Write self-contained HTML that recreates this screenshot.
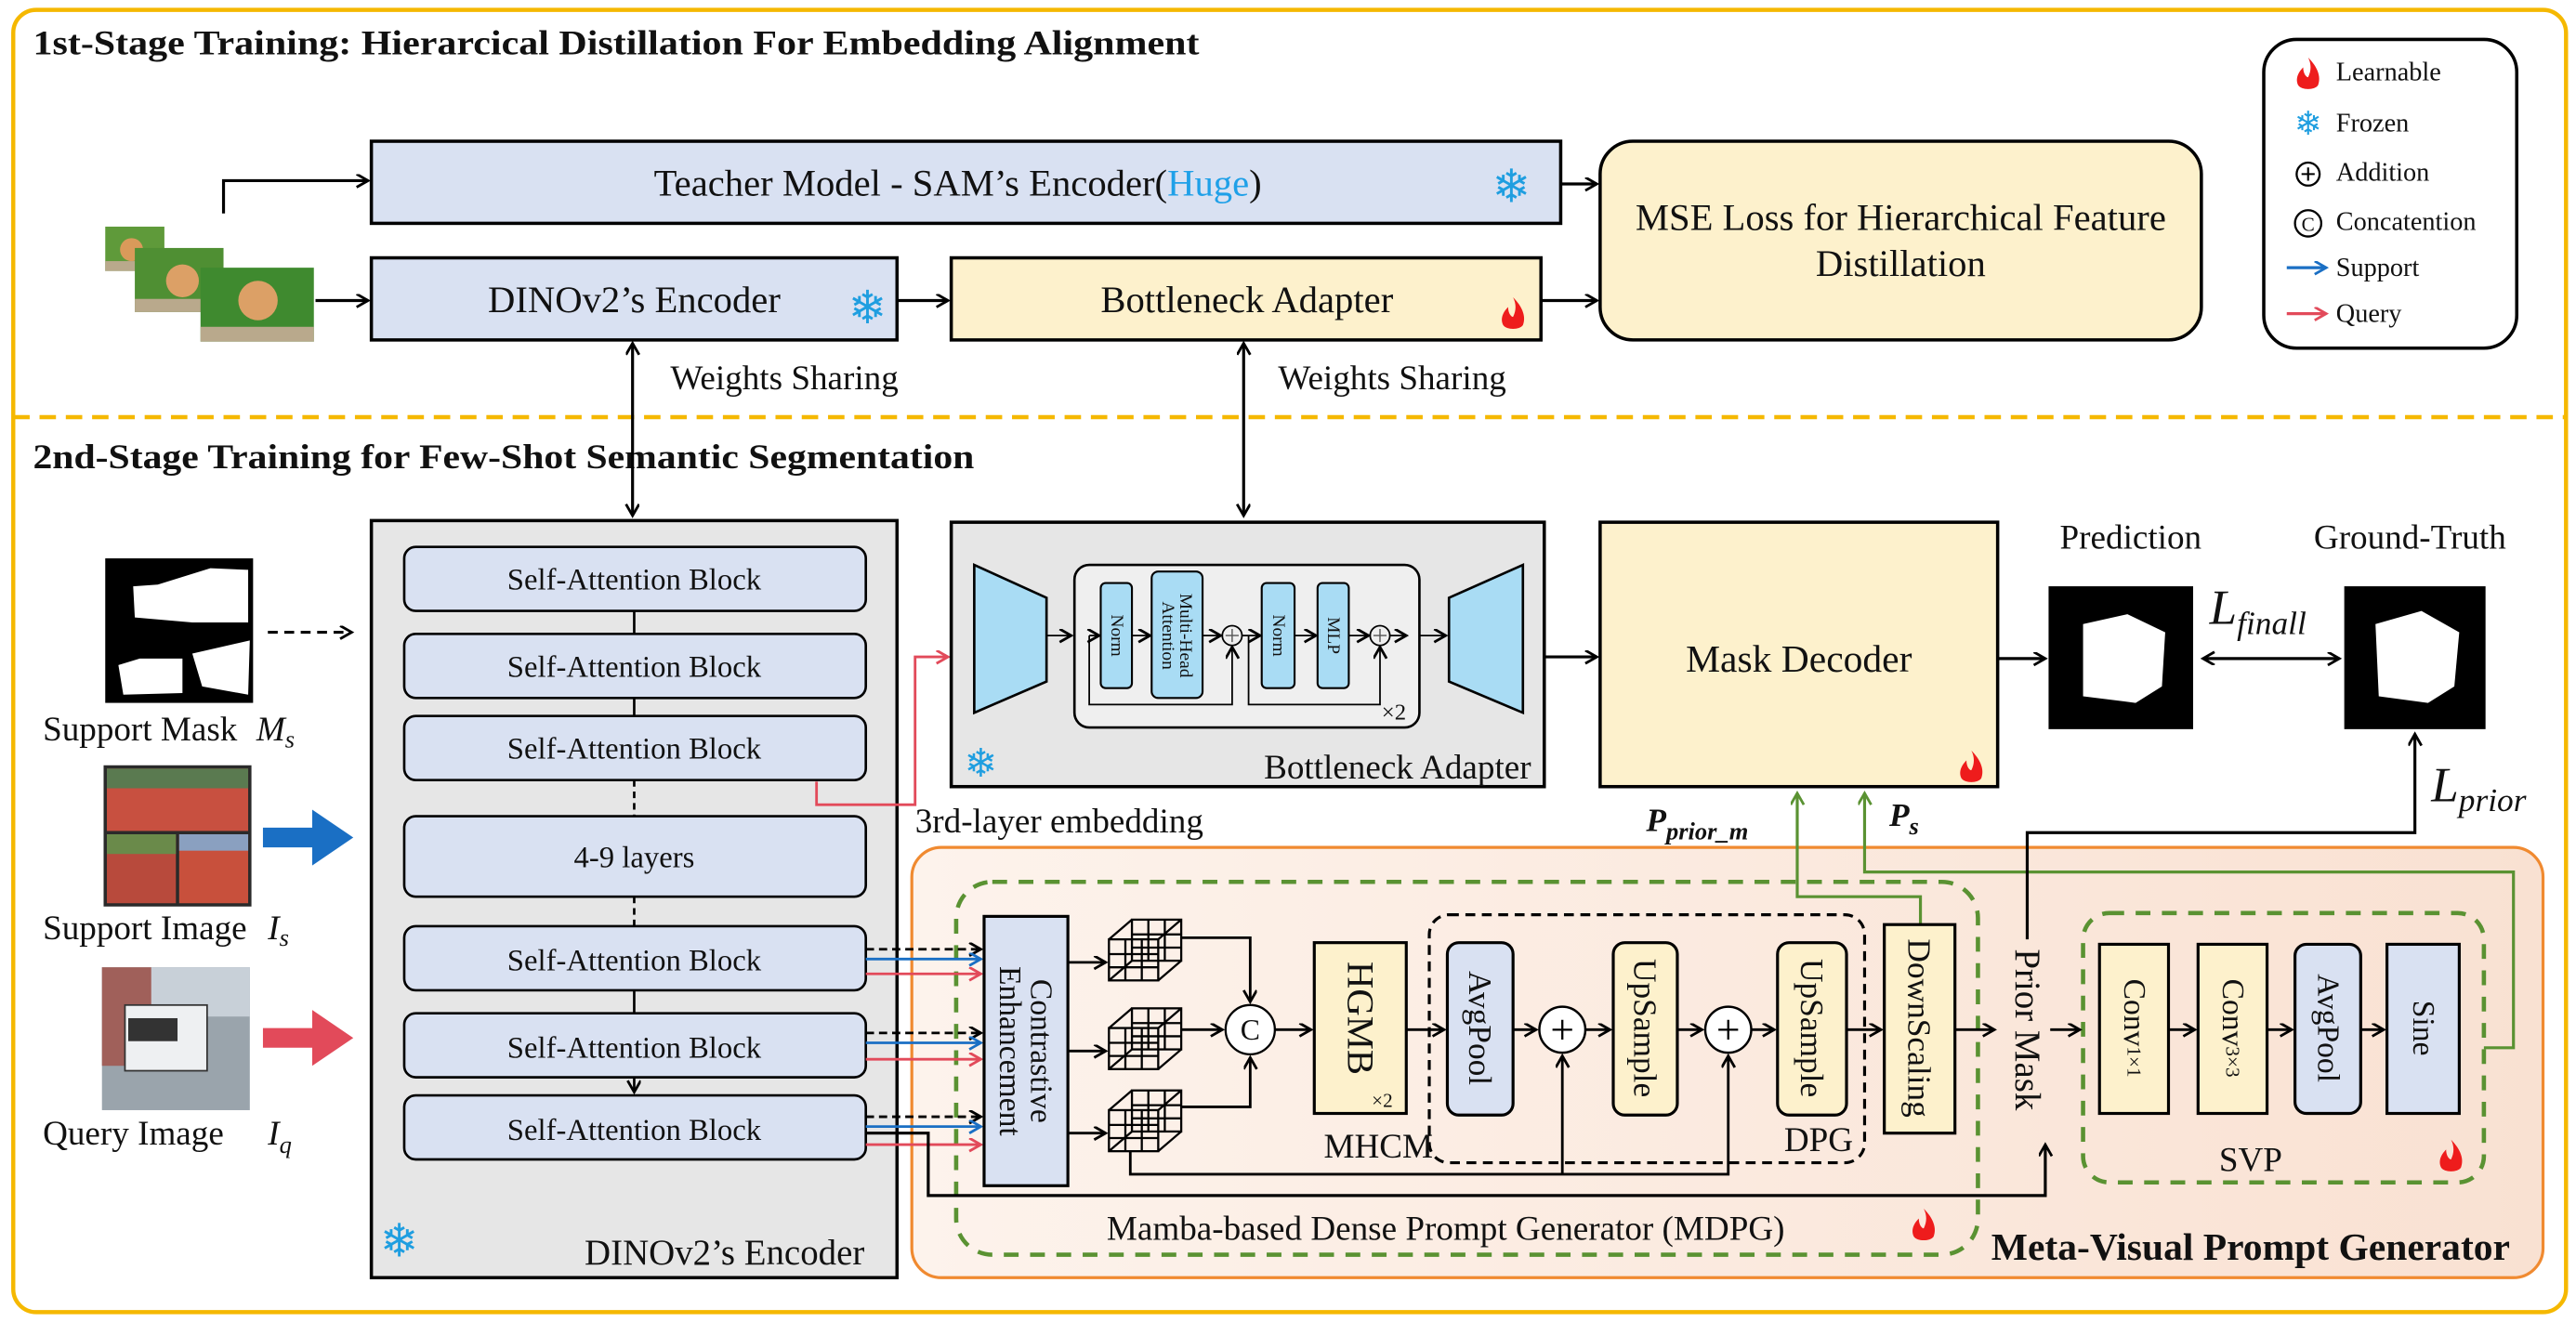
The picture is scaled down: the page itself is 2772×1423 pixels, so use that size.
<!DOCTYPE html>
<html><head><meta charset="utf-8"><style>
html,body{margin:0;padding:0;background:#fff;}
svg{display:block;}
text{font-family:"Liberation Serif",serif;fill:#111;}
</style></head><body>
<svg width="2772" height="1423" viewBox="0 0 1568 805" xmlns="http://www.w3.org/2000/svg">
<defs>
<marker id="ab" markerWidth="10" markerHeight="10" refX="8" refY="4" orient="auto" markerUnits="userSpaceOnUse"><path d="M1,0 L8,4 L1,8" fill="none" stroke="#000" stroke-width="1.6"/></marker>
<marker id="abs" markerWidth="10" markerHeight="10" refX="8" refY="4" orient="auto-start-reverse" markerUnits="userSpaceOnUse"><path d="M1,0 L8,4 L1,8" fill="none" stroke="#000" stroke-width="1.6"/></marker>
<marker id="abl" markerWidth="10" markerHeight="10" refX="8" refY="4" orient="auto" markerUnits="userSpaceOnUse"><path d="M1,0 L8,4 L1,8" fill="none" stroke="#1a6fc4" stroke-width="1.6"/></marker>
<marker id="ar" markerWidth="10" markerHeight="10" refX="8" refY="4" orient="auto" markerUnits="userSpaceOnUse"><path d="M1,0 L8,4 L1,8" fill="none" stroke="#e24a5a" stroke-width="1.6"/></marker>
<marker id="ag" markerWidth="10" markerHeight="10" refX="8" refY="4" orient="auto" markerUnits="userSpaceOnUse"><path d="M1,0 L8,4 L1,8" fill="none" stroke="#5a9232" stroke-width="1.6"/></marker>
<linearGradient id="peach" x1="0" y1="0" x2="1" y2="0"><stop offset="0" stop-color="#fdf3ec"/><stop offset="1" stop-color="#f9e1d2"/></linearGradient>
<g id="fire"><path d="M0,-10 C6,-4 8,2 6,7 C4,10 -4,10 -6,7 C-8,3 -6,-1 -3,-4 C-3,0 -1,2 0,2 C2,-2 2,-6 0,-10Z" fill="#ee1c1c"/></g>
<g id="cube" fill="none" stroke="#000" stroke-width="1.3">
<rect x="0" y="12" width="30" height="25"/><rect x="14" y="0" width="30" height="25"/>
<line x1="0" y1="12" x2="14" y2="0"/><line x1="30" y1="12" x2="44" y2="0"/><line x1="30" y1="37" x2="44" y2="25"/><line x1="0" y1="37" x2="14" y2="25"/>
<line x1="10" y1="12" x2="10" y2="37"/><line x1="20" y1="12" x2="20" y2="37"/><line x1="0" y1="21" x2="30" y2="21"/><line x1="0" y1="29" x2="30" y2="29"/>
<line x1="24" y1="0" x2="24" y2="25"/><line x1="34" y1="0" x2="34" y2="25"/><line x1="14" y1="9" x2="44" y2="9"/><line x1="14" y1="17" x2="44" y2="17"/>
</g>
</defs>

<rect x="8" y="6" width="1554" height="793" rx="14" fill="none" stroke="#f5b800" stroke-width="2.5"/>
<line x1="8" y1="254" x2="1562" y2="254" stroke="#f5b800" stroke-width="2.5" stroke-dasharray="10,6"/>

<text x="20" y="33" font-size="21" font-weight="bold" textLength="710" lengthAdjust="spacingAndGlyphs">1st-Stage Training:  Hierarcical Distillation For Embedding Alignment</text>
<text x="20" y="285" font-size="21" font-weight="bold" textLength="573" lengthAdjust="spacingAndGlyphs">2nd-Stage Training for Few-Shot Semantic Segmentation</text>

<rect x="64" y="138" width="36" height="27" fill="#5f9a3a"/><rect x="64" y="159" width="36" height="6" fill="#b9a98c"/><circle cx="80" cy="152" r="7" fill="#d99a5a"/>
<rect x="82" y="151" width="54" height="39" fill="#4f8f33"/><rect x="82" y="182" width="54" height="8" fill="#b9a98c"/><circle cx="111" cy="171" r="10" fill="#dca066"/>
<rect x="122" y="163" width="69" height="45" fill="#3f8a2f"/><rect x="122" y="199" width="69" height="9" fill="#b9a98c"/><circle cx="157" cy="183" r="12" fill="#dca066"/>
<path d="M136,130 V110 H224" fill="none" stroke="#000" stroke-width="1.8" marker-end="url(#ab)"/>
<path d="M192,183 H224" fill="none" stroke="#000" stroke-width="1.8" marker-end="url(#ab)"/>

<rect x="226" y="86" width="724" height="50" fill="#d9e1f2" stroke="#000" stroke-width="2"/>
<text x="583" y="119" font-size="23" text-anchor="middle">Teacher Model - SAM’s Encoder(<tspan fill="#1fa0e8" style="fill:#1fa0e8">Huge</tspan>)</text>
<text x="920" y="123" font-size="28" text-anchor="middle" font-family="DejaVu Sans" style="fill:#1f9ee0">❄</text>
<rect x="226" y="157" width="320" height="50" fill="#d9e1f2" stroke="#000" stroke-width="2"/>
<text x="386" y="190" font-size="23" text-anchor="middle">DINOv2’s Encoder</text>
<text x="528" y="197" font-size="28" text-anchor="middle" font-family="DejaVu Sans" style="fill:#1f9ee0">❄</text>
<path d="M546,183 H577" fill="none" stroke="#000" stroke-width="1.8" marker-end="url(#ab)"/>
<rect x="579" y="157" width="359" height="50" fill="#fdf1cc" stroke="#000" stroke-width="2"/>
<text x="759" y="190" font-size="23" text-anchor="middle">Bottleneck Adapter</text>
<use href="#fire" x="921" y="191"/>
<rect x="974" y="86" width="366" height="121" rx="20" fill="#fdf1cc" stroke="#000" stroke-width="2"/>
<text x="1157" y="140" font-size="23" text-anchor="middle">MSE Loss for Hierarchical Feature</text>
<text x="1157" y="168" font-size="23" text-anchor="middle">Distillation</text>
<path d="M950,112 H972" fill="none" stroke="#000" stroke-width="1.8" marker-end="url(#ab)"/>
<path d="M938,183 H972" fill="none" stroke="#000" stroke-width="1.8" marker-end="url(#ab)"/>

<rect x="1378" y="24" width="154" height="188" rx="20" fill="#fff" stroke="#000" stroke-width="2"/>
<use href="#fire" x="1405" y="45"/><text x="1422" y="49" font-size="16">Learnable</text>
<text x="1405" y="82" font-size="20" text-anchor="middle" font-family="DejaVu Sans" style="fill:#1f9ee0">❄</text><text x="1422" y="80" font-size="16">Frozen</text>
<circle cx="1405" cy="106" r="7" fill="none" stroke="#000" stroke-width="1.3"/><path d="M1401,106 H1409 M1405,102 V110" stroke="#000" stroke-width="1.2"/><text x="1422" y="110" font-size="16">Addition</text>
<circle cx="1405" cy="136" r="8" fill="none" stroke="#000" stroke-width="1.3"/><text x="1405" y="140.5" font-size="12" text-anchor="middle">C</text><text x="1422" y="140" font-size="16">Concatention</text>
<path d="M1392,163 H1416" stroke="#1a6fc4" stroke-width="1.8" marker-end="url(#abl)"/><text x="1422" y="168" font-size="16">Support</text>
<path d="M1392,191 H1416" stroke="#e24a5a" stroke-width="1.8" marker-end="url(#ar)"/><text x="1422" y="196" font-size="16">Query</text>

<path d="M385,209 V314" stroke="#000" stroke-width="1.8" marker-start="url(#abs)" marker-end="url(#ab)"/>
<path d="M757,209 V314" stroke="#000" stroke-width="1.8" marker-start="url(#abs)" marker-end="url(#ab)"/>
<text x="408" y="237" font-size="21">Weights Sharing</text>
<text x="778" y="237" font-size="21">Weights Sharing</text>

<rect x="64" y="340" width="90" height="88" fill="#000"/>
<path d="M81,357 L96,356 L128,346 L151,347 L151,379 L117,379 L82,376Z" fill="#fff"/>
<path d="M72,405 L85,401 L111,401 L111,422 L75,423Z M117,398 L152,390 L151,423 L123,418Z" fill="#fff"/>
<text x="26" y="451" font-size="21">Support Mask</text>
<text x="156" y="451" font-size="21" font-style="italic">M<tspan font-size="15" dy="4">s</tspan></text>
<path d="M163,385 H214" stroke="#000" stroke-width="1.8" stroke-dasharray="6,4" marker-end="url(#ab)"/>

<rect x="63" y="466" width="90" height="86" fill="#2a2a2a"/>
<rect x="65" y="468" width="86" height="38" fill="#c85040"/><rect x="65" y="468" width="86" height="12" fill="#5a7a50"/>
<rect x="65" y="508" width="42" height="42" fill="#b84a3c"/><rect x="65" y="508" width="42" height="12" fill="#6a8a4a"/>
<rect x="109" y="508" width="42" height="42" fill="#c8503c"/><rect x="109" y="508" width="42" height="10" fill="#8aa0c0"/>
<text x="26" y="572" font-size="21">Support Image</text>
<text x="163" y="572" font-size="21" font-style="italic">I<tspan font-size="15" dy="4">s</tspan></text>
<polygon points="160,504 190,504 190,493 215,510 190,527 190,516 160,516" fill="#1a6fc4"/>

<rect x="62" y="589" width="90" height="87" fill="#9aa4ac"/>
<rect x="62" y="589" width="90" height="30" fill="#c8d0d8"/><rect x="62" y="589" width="30" height="60" fill="#a0605a"/>
<rect x="76" y="612" width="50" height="40" fill="#eef0f2" stroke="#333" stroke-width="1"/><rect x="78" y="620" width="30" height="14" fill="#333"/>
<text x="26" y="697" font-size="21">Query Image</text>
<text x="163" y="697" font-size="21" font-style="italic">I<tspan font-size="15" dy="5">q</tspan></text>
<polygon points="160,626 190,626 190,615 215,632 190,649 190,638 160,638" fill="#e24a5a"/>

<rect x="226" y="317" width="320" height="461" fill="#e6e6e6" stroke="#000" stroke-width="2"/>
<g fill="#d9e1f2" stroke="#000" stroke-width="1.5">
<rect x="246" y="333" width="281" height="39" rx="7"/>
<rect x="246" y="386" width="281" height="39" rx="7"/>
<rect x="246" y="436" width="281" height="39" rx="7"/>
<rect x="246" y="497" width="281" height="49" rx="7"/>
<rect x="246" y="564" width="281" height="39" rx="7"/>
<rect x="246" y="617" width="281" height="39" rx="7"/>
<rect x="246" y="667" width="281" height="39" rx="7"/>
</g>
<g font-size="18.5" text-anchor="middle">
<text x="386" y="359">Self-Attention Block</text>
<text x="386" y="412">Self-Attention Block</text>
<text x="386" y="462">Self-Attention Block</text>
<text x="386" y="528">4-9 layers</text>
<text x="386" y="591">Self-Attention Block</text>
<text x="386" y="644">Self-Attention Block</text>
<text x="386" y="694">Self-Attention Block</text>
</g>
<g stroke="#000" stroke-width="1.5">
<line x1="386" y1="372" x2="386" y2="386"/><line x1="386" y1="425" x2="386" y2="436"/>
<line x1="386" y1="475" x2="386" y2="497" stroke-dasharray="4,3"/><line x1="386" y1="546" x2="386" y2="564" stroke-dasharray="4,3"/>
<line x1="386" y1="603" x2="386" y2="617"/>
</g>
<path d="M386,656 V665" stroke="#000" stroke-width="1.5" marker-end="url(#ab)"/>
<text x="441" y="770" font-size="22" text-anchor="middle">DINOv2’s Encoder</text>
<text x="243" y="765" font-size="28" text-anchor="middle" font-family="DejaVu Sans" style="fill:#1f9ee0">❄</text>

<path d="M497,476 V490 H557 V400 H577" fill="none" stroke="#e24a5a" stroke-width="1.6" marker-end="url(#ar)"/>
<text x="557" y="507" font-size="21">3rd-layer embedding</text>

<rect x="579" y="318" width="361" height="161" fill="#e6e6e6" stroke="#000" stroke-width="2"/>
<polygon points="593,344 637,364 637,415 593,434" fill="#a9dcf4" stroke="#000" stroke-width="1.5"/>
<polygon points="927,344 882,364 882,415 927,434" fill="#a9dcf4" stroke="#000" stroke-width="1.5"/>
<rect x="654" y="344" width="210" height="99" rx="9" fill="#efefef" stroke="#000" stroke-width="1.5"/>
<rect x="670" y="355" width="19" height="64" rx="3" fill="#a9dcf4" stroke="#000" stroke-width="1.2"/>
<rect x="701" y="348" width="31" height="77" rx="4" fill="#a9dcf4" stroke="#000" stroke-width="1.2"/>
<rect x="768" y="355" width="20" height="64" rx="3" fill="#a9dcf4" stroke="#000" stroke-width="1.2"/>
<rect x="802" y="355" width="19" height="64" rx="3" fill="#a9dcf4" stroke="#000" stroke-width="1.2"/>
<text transform="translate(679.5,387) rotate(90)" font-size="11" text-anchor="middle" dominant-baseline="central">Norm</text>
<text transform="translate(716.5,387) rotate(90)" font-size="11" text-anchor="middle"><tspan x="0" dy="-2">Multi-Head</tspan><tspan x="0" dy="11">Attention</tspan></text>
<text transform="translate(778,387) rotate(90)" font-size="11" text-anchor="middle" dominant-baseline="central">Norm</text>
<text transform="translate(811.5,387) rotate(90)" font-size="11" text-anchor="middle" dominant-baseline="central">MLP</text>
<circle cx="750" cy="387" r="6" fill="#efefef" stroke="#000" stroke-width="1"/><path d="M746,387 H754 M750,383 V391" stroke="#555" stroke-width="0.8"/>
<circle cx="840" cy="387" r="6" fill="#efefef" stroke="#000" stroke-width="1"/><path d="M836,387 H844 M840,383 V391" stroke="#555" stroke-width="0.8"/>
<g stroke="#000" stroke-width="1" fill="none">
<path d="M637,387 H652" marker-end="url(#ab)"/>
<path d="M663,387 H669" marker-end="url(#ab)"/>
<path d="M689,387 H700" marker-end="url(#ab)"/>
<path d="M732,387 H743" marker-end="url(#ab)"/>
<path d="M756,387 H767" marker-end="url(#ab)"/>
<path d="M788,387 H801" marker-end="url(#ab)"/>
<path d="M821,387 H833" marker-end="url(#ab)"/>
<path d="M846,387 H856" marker-end="url(#ab)"/>
<path d="M663,387 V429 H750 V394" marker-end="url(#ab)"/>
<path d="M760,387 V429 H840 V394" marker-end="url(#ab)"/>
<path d="M864,387 H880" marker-end="url(#ab)"/>
</g>
<text x="841" y="438" font-size="14">×2</text>
<text x="597" y="473" font-size="24" text-anchor="middle" font-family="DejaVu Sans" style="fill:#1f9ee0">❄</text>
<text x="932" y="474" font-size="21" text-anchor="end">Bottleneck Adapter</text>
<path d="M940,400 H972" stroke="#000" stroke-width="1.8" marker-end="url(#ab)"/>

<rect x="974" y="318" width="242" height="161" fill="#fdf1cc" stroke="#000" stroke-width="2"/>
<text x="1095" y="409" font-size="23.5" text-anchor="middle">Mask Decoder</text>
<use href="#fire" x="1200" y="467"/>
<path d="M1216,401 H1245" stroke="#000" stroke-width="1.8" marker-end="url(#ab)"/>
<text x="1297" y="334" font-size="21" text-anchor="middle">Prediction</text>
<text x="1467" y="334" font-size="21" text-anchor="middle">Ground-Truth</text>
<rect x="1247" y="357" width="88" height="87" fill="#000"/>
<path d="M1268,380 L1295,374 L1318,385 L1316,418 L1300,428 L1268,424Z" fill="#fff"/>
<rect x="1427" y="357" width="86" height="87" fill="#000"/>
<path d="M1446,380 L1474,372 L1497,385 L1494,418 L1478,428 L1448,424Z" fill="#fff"/>
<path d="M1341,401 H1424" stroke="#000" stroke-width="1.8" marker-start="url(#abs)" marker-end="url(#ab)"/>
<text x="1345" y="380" font-size="30" font-style="italic">L<tspan font-size="20" dy="6">finall</tspan></text>
<text x="1480" y="488" font-size="30" font-style="italic">L<tspan font-size="20" dy="6">prior</tspan></text>
<text x="1002" y="506" font-size="20" font-style="italic" font-weight="bold">P<tspan font-size="15" dy="5">prior_m</tspan></text>
<text x="1150" y="503" font-size="20" font-style="italic" font-weight="bold">P<tspan font-size="15" dy="5">s</tspan></text>

<rect x="555" y="516" width="993" height="262" rx="18" fill="url(#peach)" stroke="#f08a30" stroke-width="1.8"/>
<rect x="582" y="537" width="622" height="227" rx="22" fill="none" stroke="#5a9232" stroke-width="2.6" stroke-dasharray="9,7"/>
<rect x="1268" y="556" width="244" height="164" rx="16" fill="none" stroke="#5a9232" stroke-width="2.6" stroke-dasharray="9,7"/>
<rect x="870" y="557" width="265" height="151" rx="12" fill="none" stroke="#000" stroke-width="1.8" stroke-dasharray="6,4"/>

<path d="M1169,563 V546 H1094 V483" fill="none" stroke="#5a9232" stroke-width="1.8" marker-end="url(#ag)"/>
<path d="M1512,638 H1530 V531 H1135 V483" fill="none" stroke="#5a9232" stroke-width="1.8" marker-end="url(#ag)"/>
<path d="M1234,572 V507 H1470 V447" fill="none" stroke="#000" stroke-width="1.8" marker-end="url(#ab)"/>

<g stroke-width="1.6" fill="none">
<path d="M527,578 H597" stroke="#000" stroke-dasharray="5,3" marker-end="url(#ab)"/>
<path d="M527,584 H597" stroke="#1a6fc4" marker-end="url(#abl)"/>
<path d="M527,593 H597" stroke="#e24a5a" marker-end="url(#ar)"/>
<path d="M527,629 H597" stroke="#000" stroke-dasharray="5,3" marker-end="url(#ab)"/>
<path d="M527,635 H597" stroke="#1a6fc4" marker-end="url(#abl)"/>
<path d="M527,645 H597" stroke="#e24a5a" marker-end="url(#ar)"/>
<path d="M527,680 H597" stroke="#000" stroke-dasharray="5,3" marker-end="url(#ab)"/>
<path d="M527,686 H597" stroke="#1a6fc4" marker-end="url(#abl)"/>
<path d="M527,697 H597" stroke="#e24a5a" marker-end="url(#ar)"/>
</g>
<path d="M527,690 H565 V728 H1245 V697" fill="none" stroke="#000" stroke-width="1.8" marker-end="url(#ab)"/>

<rect x="599" y="558" width="51" height="164" fill="#d9e1f2" stroke="#000" stroke-width="1.8"/>
<text transform="translate(624.5,640) rotate(90)" font-size="19" text-anchor="middle"><tspan x="0" dy="-3">Contrastive</tspan><tspan x="0" dy="19">Enhancement</tspan></text>

<use href="#cube" x="675" y="560"/>
<use href="#cube" x="675" y="614"/>
<use href="#cube" x="675" y="664"/>
<g stroke="#000" stroke-width="1.6" fill="none">
<path d="M650,586 H673" marker-end="url(#ab)"/>
<path d="M650,640 H673" marker-end="url(#ab)"/>
<path d="M650,690 H673" marker-end="url(#ab)"/>
<path d="M719,571 H761 V610" marker-end="url(#ab)"/>
<path d="M719,627 H744" marker-end="url(#ab)"/>
<path d="M719,674 H761 V644" marker-end="url(#ab)"/>
<path d="M776,627 H798" marker-end="url(#ab)"/>
<path d="M856,627 H879" marker-end="url(#ab)"/>
<path d="M921,627 H935" marker-end="url(#ab)"/>
<path d="M965,627 H980" marker-end="url(#ab)"/>
<path d="M1021,627 H1036" marker-end="url(#ab)"/>
<path d="M1066,627 H1080" marker-end="url(#ab)"/>
<path d="M1124,627 H1145" marker-end="url(#ab)"/>
<path d="M1190,627 H1214" marker-end="url(#ab)"/>
<path d="M688,701 V715 H1052 V643" marker-end="url(#ab)"/>
<path d="M951,715 V643" marker-end="url(#ab)"/>
<path d="M1248,627 H1266" marker-end="url(#ab)"/>
<path d="M1320,627 H1336" marker-end="url(#ab)"/>
<path d="M1380,627 H1395" marker-end="url(#ab)"/>
<path d="M1437,627 H1451" marker-end="url(#ab)"/>
</g>
<circle cx="761" cy="627" r="15" fill="#fff" stroke="#000" stroke-width="1.3"/>
<text x="761" y="633" font-size="18" text-anchor="middle">C</text>
<rect x="800" y="574" width="56" height="104" fill="#fdf1cc" stroke="#000" stroke-width="1.8"/>
<text transform="translate(828,620) rotate(90)" font-size="23" text-anchor="middle" dominant-baseline="central">HGMB</text>
<text x="835" y="674" font-size="12">×2</text>
<text x="839" y="705" font-size="21" text-anchor="middle">MHCM</text>
<rect x="881" y="574" width="40" height="105" rx="7" fill="#d9e1f2" stroke="#000" stroke-width="1.8"/>
<text transform="translate(901,626) rotate(90)" font-size="20" text-anchor="middle" dominant-baseline="central">AvgPool</text>
<circle cx="951" cy="627" r="14" fill="#fff" stroke="#000" stroke-width="1.4"/><path d="M945,627 H957 M951,621 V633" stroke="#000" stroke-width="1.3"/>
<rect x="982" y="574" width="39" height="105" rx="7" fill="#fdf1cc" stroke="#000" stroke-width="1.8"/>
<text transform="translate(1001.5,626) rotate(90)" font-size="20" text-anchor="middle" dominant-baseline="central">UpSample</text>
<circle cx="1052" cy="627" r="14" fill="#fff" stroke="#000" stroke-width="1.4"/><path d="M1046,627 H1058 M1052,621 V633" stroke="#000" stroke-width="1.3"/>
<rect x="1082" y="574" width="42" height="105" rx="7" fill="#fdf1cc" stroke="#000" stroke-width="1.8"/>
<text transform="translate(1103,626) rotate(90)" font-size="20" text-anchor="middle" dominant-baseline="central">UpSample</text>
<text x="1107" y="701" font-size="21" text-anchor="middle">DPG</text>
<rect x="1147" y="563" width="43" height="127" fill="#fdf1cc" stroke="#000" stroke-width="1.8"/>
<text transform="translate(1168.5,626) rotate(90)" font-size="20" text-anchor="middle" dominant-baseline="central">DownScaling</text>
<text transform="translate(1234,627) rotate(90)" font-size="22" text-anchor="middle" dominant-baseline="central">Prior Mask</text>
<text x="880" y="755" font-size="21" text-anchor="middle">Mamba-based Dense Prompt Generator (MDPG)</text>
<use href="#fire" x="1171" y="746"/>

<rect x="1278" y="575" width="42" height="103" fill="#fdf1cc" stroke="#000" stroke-width="1.8"/>
<text transform="translate(1299,626) rotate(90)" font-size="19" text-anchor="middle" dominant-baseline="central">Conv<tspan font-size="12">1×1</tspan></text>
<rect x="1338" y="575" width="42" height="103" fill="#fdf1cc" stroke="#000" stroke-width="1.8"/>
<text transform="translate(1359,626) rotate(90)" font-size="19" text-anchor="middle" dominant-baseline="central">Conv<tspan font-size="12">3×3</tspan></text>
<rect x="1397" y="575" width="40" height="103" rx="7" fill="#d9e1f2" stroke="#000" stroke-width="1.8"/>
<text transform="translate(1417,626) rotate(90)" font-size="19" text-anchor="middle" dominant-baseline="central">AvgPool</text>
<rect x="1453" y="575" width="44" height="103" fill="#d9e1f2" stroke="#000" stroke-width="1.8"/>
<text transform="translate(1475,626) rotate(90)" font-size="19" text-anchor="middle" dominant-baseline="central">Sine</text>
<text x="1370" y="713" font-size="21" text-anchor="middle">SVP</text>
<use href="#fire" x="1492" y="704"/>
<text x="1370" y="767" font-size="23.5" font-weight="bold" text-anchor="middle">Meta-Visual Prompt Generator</text>
</svg>
</body></html>
